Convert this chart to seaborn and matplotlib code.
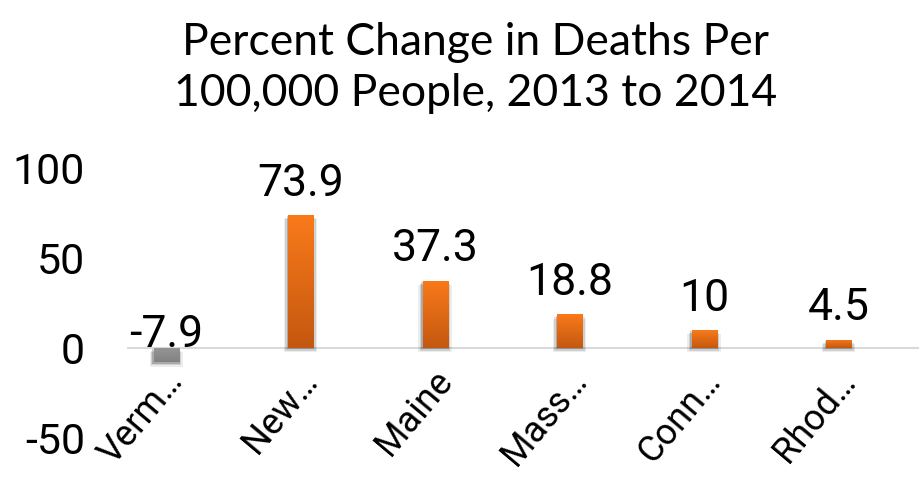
import numpy as np
import matplotlib
matplotlib.use("Agg")
import matplotlib.pyplot as plt
import matplotlib.transforms as mtransforms
from matplotlib.patches import Rectangle
import seaborn as sns

# ---- data ----
states = ["Verm…", "New…", "Maine", "Mass…", "Conn…", "Rhod…"]
values = [-7.9, 73.9, 37.3, 18.8, 10, 4.5]
yticks = [-50, 0, 50, 100]
title = "Percent Change in Deaths Per\n100,000 People, 2013 to 2014"

sns.set_theme(style="white")
plt.rcParams["font.family"] = ["Lato", "DejaVu Sans"]
tickfam = ["Roboto", "DejaVu Sans"]

fig = plt.figure(figsize=(9.2, 4.95), dpi=100)
ax = fig.add_axes([128 / 920, 1 - 438 / 495, 1 - 128 / 920, (438 - 168) / 495])

colors = ["#8c8c8c" if v < 0 else "#ee7118" for v in values]
sns.barplot(x=states, y=values, hue=states, palette=colors, legend=False,
            width=0.186, ax=ax, saturation=1, edgecolor="none")

ax.set_xlim(-0.283, 5.606)
ax.set_ylim(-50, 100)
ax.set_yticks(yticks)
ax.set_yticklabels([str(t) for t in yticks])

# gradient fill + soft shadow for each bar
for p, v in zip(ax.patches, values):
    x0, y0 = p.get_x(), p.get_y()
    w, h = p.get_width(), p.get_height()
    ylo, yhi = min(y0, y0 + h), max(y0, y0 + h)
    if v >= 0:
        top, bot = np.array([250, 122, 26]) / 255, np.array([196, 88, 16]) / 255
    else:
        top, bot = np.array([150, 150, 150]) / 255, np.array([130, 130, 130]) / 255
    grad = np.linspace(0, 1, 64)[:, None, None]
    img = top * (1 - grad) + bot * grad
    im = ax.imshow(img, extent=[x0, x0 + w, ylo, yhi], origin="upper",
                   aspect="auto", zorder=p.get_zorder() + 0.1)
    im.set_clip_path(p)
    for k, a in zip([1.5, 3.0, 4.5], [0.18, 0.12, 0.07]):
        sh = Rectangle((x0 - 0.01 * k / 1.5, ylo - k * 0.55), w + 0.02 * k / 1.5, yhi - ylo,
                       facecolor="#000000", alpha=a, edgecolor="none",
                       zorder=p.get_zorder() - 0.2)
        ax.add_patch(sh)

# value labels
for i, v in enumerate(values):
    yb = max(v, 0)
    off = 14 if v > 0 else 1
    ax.annotate(f"{v:g}", (i, yb), xytext=(0, off), textcoords="offset points",
                ha="center", va="baseline", fontsize=32, color="#000000",
                family=tickfam)

# axes styling
for s in ["top", "right", "left"]:
    ax.spines[s].set_visible(False)
ax.spines["bottom"].set_position(("data", 0))
ax.spines["bottom"].set_color("#d9d9d9")
ax.spines["bottom"].set_linewidth(1.5)
ax.spines["bottom"].set_zorder(0.5)
ax.tick_params(axis="both", length=0)
ax.tick_params(axis="y", labelsize=31, pad=31, colors="#000000")
ax.tick_params(axis="x", labelsize=26, pad=0, colors="#000000")
ax.set_xlabel("")
ax.set_ylabel("")
ax.grid(False)
for lbl in ax.get_yticklabels():
    lbl.set_family(tickfam)

offset = mtransforms.ScaledTranslation(11 / 100, -27 / 100, fig.dpi_scale_trans)
for lbl in ax.get_xticklabels():
    lbl.set_family(tickfam)
    lbl.set_rotation(50)
    lbl.set_ha("right")
    lbl.set_va("center")
    lbl.set_rotation_mode("anchor")
    lbl.set_transform(lbl.get_transform() + offset)

fig.text(476 / 920, 1 - 68 / 495, title, ha="center", va="center",
         fontsize=32, linespacing=1.28, color="#000000")

fig.savefig("out.png", dpi=100)
